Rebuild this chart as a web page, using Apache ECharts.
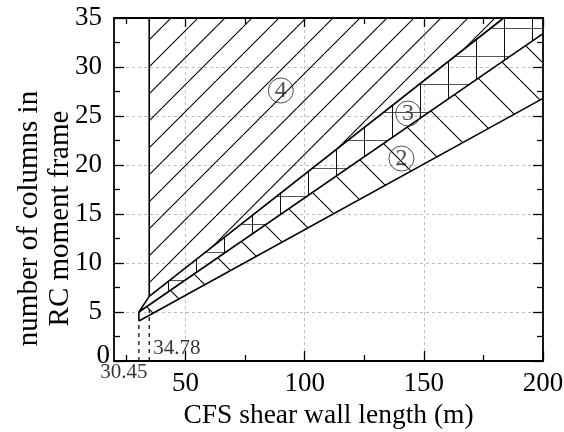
<!DOCTYPE html>
<html>
<head>
<meta charset="utf-8">
<script src="https://cdn.jsdelivr.net/npm/echarts@6/dist/echarts.min.js"></script>
<style>
  html, body { margin: 0; padding: 0; background: #fff; }
  #chart { width: 564px; height: 432px; }
</style>
</head>
<body>
<div id="chart"></div>
<script>
const FONT = '"Liberation Serif", "Times New Roman", serif';

// x-axis tick positions
const xMajorTicks = [50, 100, 150, 200];
const xMinorTicks = [25, 75, 125, 175];

// Zone boundaries: [wall length (m), number of columns]
const boundLow = [[30.45, 4.08], [200, 26.8]];                 // lower edge of zone 2
const boundMid = [[30.45, 5.0], [200, 33.4]];                  // zone 2 / zone 3
const boundUp = [[30.45, 5.0], [34.78, 6.6], [183.5, 35]];     // zone 3 / zone 4
const wallEdge = [[34.78, 6.6], [34.78, 35]];                  // left edge of zone 4
const vertexEdge = [[30.45, 4.08], [30.45, 5.0]];
const cornerTopRight = [200, 35];

// Threshold wall lengths and the heights their guide lines reach
const thresholds = [30.45, 34.78];
const thresholdTops = [4.08, 5.7];

// Zone number markers: [x, y, zone]
const zoneMarks = [[90.0, 27.6, '4'], [143.4, 25.25, '3'], [140.6, 20.66, '2']];

// Polygons of the hatched zones, assembled from the boundaries
const zone2 = boundLow.concat(boundMid.slice().reverse());
const zone3 = boundMid.concat([cornerTopRight], boundUp.slice().reverse());
const zone4 = wallEdge.concat([boundUp[boundUp.length - 1]]);

// Hatch tiles
function tile(size, draw) {
  const c = document.createElement('canvas');
  c.width = c.height = size;
  const ctx = c.getContext('2d');
  draw(ctx, size);
  return c;
}
const hatchForward = tile(27, (ctx, s) => {        // "/" lines
  ctx.strokeStyle = '#000'; ctx.lineWidth = 1.1;
  ctx.beginPath();
  for (let k = -1; k <= 1; k++) { ctx.moveTo(k * s, s); ctx.lineTo(k * s + s, 0); }
  ctx.stroke();
});
const hatchBack = tile(40, (ctx, s) => {           // "\" lines
  ctx.strokeStyle = '#000'; ctx.lineWidth = 1.1;
  ctx.beginPath();
  for (let k = -1; k <= 1; k++) { ctx.moveTo(k * s, 0); ctx.lineTo(k * s + s, s); }
  ctx.stroke();
});
const hatchGrid = tile(28, (ctx, s) => {           // square grid
  ctx.fillStyle = '#555'; ctx.fillRect(0, 0, s, 1);
  ctx.fillStyle = '#111'; ctx.fillRect(0, 0, 1, s);
});

function zoneSeries(points, pattern) {
  return {
    type: 'custom', coordinateSystem: 'cartesian2d', data: [0], silent: true, z: 1,
    renderItem: (params, api) => ({
      type: 'polygon',
      shape: { points: points.map(p => api.coord(p)) },
      style: { fill: { image: pattern, repeat: 'repeat' }, stroke: null }
    })
  };
}

function outline(data, extra) {
  return Object.assign({
    type: 'line', data, symbol: 'none', silent: true, z: 3,
    lineStyle: { color: '#000', width: 1.6 }
  }, extra || {});
}

const axisLine = { color: '#000', width: 1.8 };
const tickLine = { color: '#000', width: 1.3 };
const gridLine = { color: '#bdbdbd', width: 1, type: [3, 3] };

function xAxisDef(position, ticks, len, main) {
  return {
    type: 'value', min: 20, max: 200, position,
    axisLine: { show: main, onZero: false, lineStyle: axisLine },
    axisTick: { show: true, inside: true, length: len, customValues: ticks, lineStyle: tickLine },
    axisLabel: position === 'bottom' && main
      ? { show: true, customValues: ticks, fontFamily: FONT, fontSize: 27, color: '#000', margin: 9 }
      : { show: false },
    splitLine: { show: position === 'bottom' && main, lineStyle: gridLine },
    name: position === 'bottom' && main ? 'CFS shear wall length (m)' : '',
    nameLocation: 'middle', nameGap: 39,
    nameTextStyle: { fontFamily: FONT, fontSize: 27.5, color: '#000' }
  };
}

function yAxisDef(position) {
  const left = position === 'left';
  return {
    type: 'value', min: 0, max: 35, interval: 5, position,
    axisLine: { show: true, onZero: false, lineStyle: axisLine },
    axisTick: { show: true, inside: true, length: 10, lineStyle: tickLine },
    minorTick: { show: true, splitNumber: 2, length: 6, lineStyle: tickLine },
    axisLabel: left ? {
      show: true, margin: 3,
      formatter: v => v === 0 ? '{z|0}' : '{n|' + v + '}',
      rich: {
        n: { fontFamily: FONT, fontSize: 27, color: '#000', padding: [0, 9, 0, 0] },
        z: { fontFamily: FONT, fontSize: 27, color: '#000', padding: [0, 1, 10, 0] }
      }
    } : { show: false },
    splitLine: { show: left, lineStyle: gridLine },
    name: left ? 'number of columns in\nRC moment frame' : '',
    nameLocation: 'middle', nameGap: 38, nameRotate: 90, nameMoveOverlap: false,
    nameTextStyle: { fontFamily: FONT, fontSize: 29, color: '#000', lineHeight: 31, padding: [0, 58, 0, 0] }
  };
}

const chart = echarts.init(document.getElementById('chart'), null, { renderer: 'canvas' });
chart.setOption({
  animation: false,
  backgroundColor: '#fff',
  grid: { left: 114, right: 21, top: 18, bottom: 71, containLabel: false, outerBoundsMode: 'none' },
  xAxis: [
    xAxisDef('bottom', xMajorTicks, 10, true),
    xAxisDef('bottom', xMinorTicks, 6, false),
    xAxisDef('top', xMajorTicks, 9, true),
    xAxisDef('top', xMinorTicks, 6, false)
  ],
  yAxis: [yAxisDef('left'), yAxisDef('right')],
  series: [
    zoneSeries(zone4, hatchForward),
    zoneSeries(zone3, hatchGrid),
    zoneSeries(zone2, hatchBack),
    outline(boundLow),
    outline(boundMid),
    outline(boundUp),
    outline(wallEdge),
    outline(vertexEdge),
    ...thresholds.map((t, i) => outline([[t, 0], [t, thresholdTops[i]]],
      { lineStyle: { color: '#000', width: 1.2, type: [4, 4] } })),
    {
      type: 'scatter', silent: true, z: 4,
      data: zoneMarks,
      symbol: 'circle', symbolSize: 25,
      itemStyle: { color: 'rgba(0,0,0,0)', borderColor: '#222', borderWidth: 1 },
      label: {
        show: true, position: 'inside', formatter: p => p.value[2],
        fontFamily: FONT, fontSize: 24, color: '#222'
      }
    },
    {
      type: 'scatter', silent: true, z: 4, clip: false,
      symbolSize: 0,
      data: thresholds.map((t, i) => ({
        value: [t, 0],
        label: i === 0
          ? { position: 'bottom', distance: 0, offset: [-15, 1] }
          : { position: 'right', distance: 4, offset: [0, -13] }
      })),
      label: {
        show: true, formatter: p => p.value[0].toFixed(2),
        fontFamily: FONT, fontSize: 21, color: '#000'
      }
    }
  ]
});
</script>
</body>
</html>
